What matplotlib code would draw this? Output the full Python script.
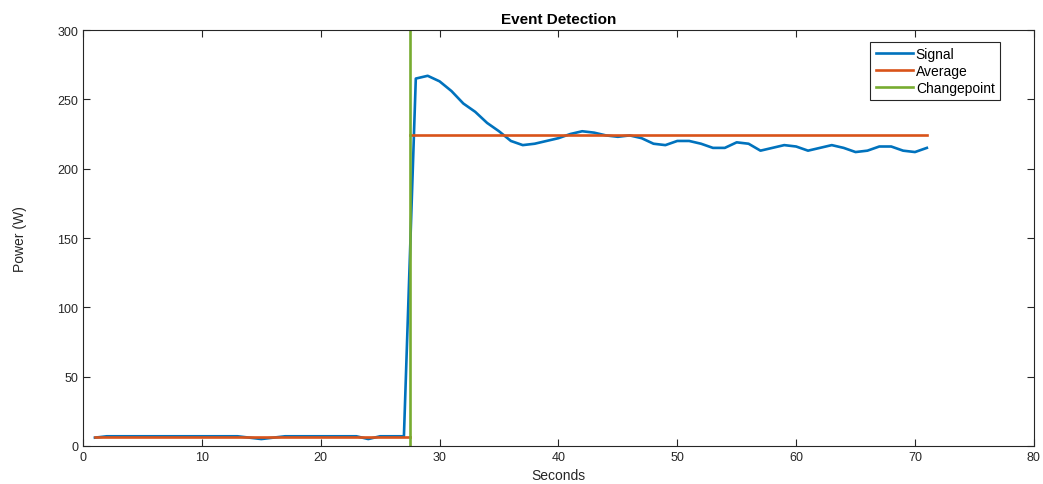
import numpy as np
from matplotlib import pyplot as plt

plt.rcParams['font.family'] = ['Liberation Sans', 'DejaVu Sans']

seconds = list(range(1, 72))
signal = [6, 7, 7, 7, 7, 7, 7, 7, 7, 7, 7, 7, 7, 6, 5, 6, 7, 7, 7, 7, 7, 7, 7, 5, 7, 7, 7,
          265, 267, 263, 256, 247, 241, 233, 227, 220, 217, 218, 220, 222, 225, 227, 226,
          224, 223, 224, 222, 218, 217, 220, 220, 218, 215, 215, 219, 218, 213, 215, 217,
          216, 213, 215, 217, 215, 212, 213, 216, 216, 213, 212, 215]
avg_x = [1, 27.5, 27.5, 71]
avg_y = [6.5, 6.5, 224, 224]
change_x = [27.5, 27.5]
change_y = [0, 320]

fig = plt.figure(figsize=(10.43, 4.85), dpi=100)
ax = fig.add_axes([0.0796, 0.0784, 0.9116, 0.8576])

ax.plot(seconds, signal, color='#0072BD', lw=1.9, label='Signal')
ax.plot(avg_x[:2], avg_y[:2], color='#D95319', lw=1.9, label='Average')
ax.plot(avg_x[2:], avg_y[2:], color='#D95319', lw=1.9)
ax.plot(change_x, change_y, color='#77AC30', lw=1.9, label='Changepoint')

ax.set_xlim(0, 80)
ax.set_ylim(0, 300)
ax.set_xticks(range(0, 81, 10))
ax.set_yticks(range(0, 301, 50))
ax.tick_params(direction='in', top=True, right=True, labelsize=9, length=5, width=0.8, colors='#262626')
for s in ax.spines.values():
    s.set_color('#262626')
    s.set_linewidth(0.8)

ax.set_xlabel('Seconds', fontsize=10, color='#262626')
ax.set_ylabel('Power (W)', fontsize=10, color='#262626', labelpad=22)
ax.set_title('Event Detection', fontsize=11, fontweight='bold', pad=5)

leg = ax.legend(loc='upper right', bbox_to_anchor=(0.972, 0.989), fontsize=10, fancybox=False,
                edgecolor='#262626', framealpha=1, handlelength=2.7, handletextpad=0.2,
                borderpad=0.4, labelspacing=0.2)
leg.get_frame().set_linewidth(0.8)

plt.savefig('out.png', dpi=100)
